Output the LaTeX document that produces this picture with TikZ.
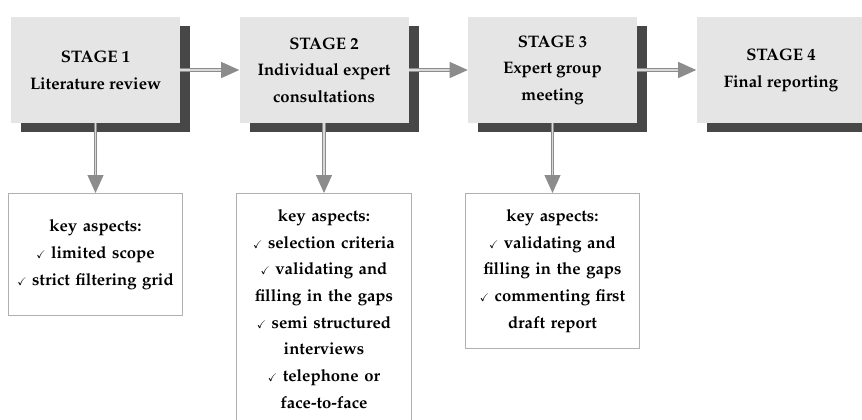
\documentclass[tikz,border=0pt]{standalone}
\usepackage[T1]{fontenc}
\usepackage{amssymb}
\usepackage{mathpazo}
\usepackage{tikz}
\usetikzlibrary{positioning,arrows.meta,shadows}

\newcommand{\ck}{{\footnotesize$\checkmark$}\ }

\begin{document}
\begin{tikzpicture}[x=0.75pt,y=-0.75pt,
    stagebox/.style={fill=gray!20, minimum width=126.75pt, minimum height=79.5pt,
        align=center, font=\fontsize{12.5}{20}\selectfont\bfseries,
        drop shadow={shadow xshift=7.5pt, shadow yshift=-6.75pt, fill=black!72, opacity=1}},
    keybox/.style={draw=gray!62, line width=0.8pt, fill=white, anchor=north,
        minimum width=126.75pt, minimum height=91.5pt, text width=124pt,
        inner ysep=12pt, align=center, font=\fontsize{12.5}{20}\selectfont\bfseries},
    flow/.style={draw=gray!90, double=gray!30, double distance=1.3pt, line width=0.8pt,
        -{Triangle[length=13.5pt,width=12pt,fill=gray!90]}}]
    % frame
    \useasboundingbox (0,0) rectangle (862,419);

    % stages
    \node[stagebox] (s1) at (95.5,70) {STAGE 1\\Literature review};
    \node[stagebox] (s2) at (324,70) {STAGE 2\\Individual expert\\consultations};
    \node[stagebox] (s3) at (552.5,70) {STAGE 3\\Expert group\\meeting};
    \node[stagebox] (s4) at (781,70) {STAGE 4\\Final reporting};

    % key aspects
    \node[keybox] (k1) at (95.5,193) {key aspects:\\\ck limited scope\\\ck strict filtering grid};
    \node[keybox] (k2) at (324,193) {key aspects:\\\ck selection criteria\\\ck validating and\\filling in the gaps\\\ck semi structured\\interviews\\\ck telephone or\\face-to-face};
    \node[keybox] (k3) at (552.5,193) {key aspects:\\\ck validating and\\filling in the gaps\\\ck commenting first\\draft report};

    % arrows
    \foreach \a/\b in {s1/s2,s2/s3,s3/s4}
        \draw[flow] (\a) -- (\b);
    \foreach \a/\b in {s1/k1,s2/k2,s3/k3}
        \draw[flow] (\a) -- (\b);
\end{tikzpicture}
\end{document}
